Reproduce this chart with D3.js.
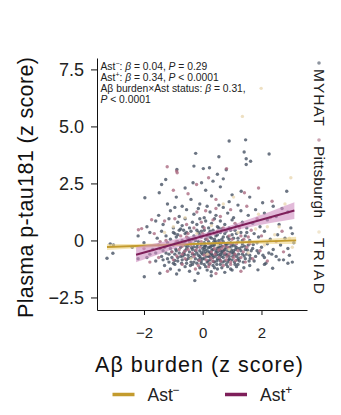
<!DOCTYPE html>
<html>
<head>
<meta charset="utf-8">
<script src="https://cdn.jsdelivr.net/npm/d3@7"></script>
<style>
  body { margin: 0; background: #fff; }
  svg { display: block; font-family: "Liberation Sans", Arial, sans-serif; }
</style>
</head>
<body>
<svg id="chart" width="341" height="415"></svg>
<script>
// ---- data -------------------------------------------------------------
const xTicks = [-2, 0, 2];
const xTickLabels = ["\u22122", "0", "2"];
const yTicks = [-2.5, 0, 2.5, 5.0, 7.5];
const yTickLabels = ["\u22122.5", "0", "2.5", "5.0", "7.5"];

const cohorts = ["MYHAT", "Pittsburgh", "TRIAD"];
const cohortColors = ["#434e60", "#a9687f", "#e8d6ad"];

// participants, [Aβ burden z, plasma p-tau181 z]
const myhatPoints = [
  [-0.24,3.82],[1.41,3.88],[2.26,3.79],[1.48,3.58],[1.63,3.47],[1.48,3.33],[0.9,4.36],[1.46,4.41],
  [-0.3,3.26],[0.02,3.15],[0.23,3.19],[-0.88,3.11],[0.55,3.67],[-1.26,2.67],[-1.4,2.45],[-0.33,2.53],
  [-0.04,2.53],[1.31,2.16],[2.04,1.65],[2.86,2.16],[-1.97,1.87],[-1.48,2.09],[0.8,3.1],[0.5,2.9],
  [0.7,2.7],[0.35,2.6],[-0.6,2.3],[0.1,2.2],[0.6,2.35],[1.0,2.0],[-0.9,1.9],[-0.4,1.8],[0.3,1.95],
  [1.6,1.9],[2.4,1.5],[-1.2,1.6],[0.9,1.7],[1.2,1.55],[-0.1,1.6],[0.55,1.55],[2.7,1.4],[-0.7,1.5],
  [-1.5,1.1],[-1.1,1.3],[-0.8,1.05],[-0.55,1.35],[-0.3,1.15],[-0.15,1.4],[0.05,1.0],[0.25,1.25],
  [0.45,1.1],[0.7,1.45],[0.85,1.2],[1.05,1.0],[1.3,1.3],[1.55,1.1],[1.8,1.35],[2.1,1.2],[2.5,1.05],
  [2.9,1.25],[-0.95,1.45],[0.15,1.5],
  [-1.9,0.6],[-1.6,0.85],[-1.35,0.7],[-1.15,0.95],[-1.0,0.55],[-0.85,0.8],[-0.7,0.65],[-0.6,0.95],
  [-0.45,0.55],[-0.35,0.8],[-0.2,0.7],[-0.1,0.95],[0.0,0.6],[0.1,0.85],[0.2,0.55],[0.3,0.75],
  [0.4,0.95],[0.5,0.6],[0.6,0.85],[0.75,0.7],[0.9,0.55],[1.0,0.9],[1.15,0.65],[1.35,0.8],[1.5,0.55],
  [1.7,0.75],[1.95,0.6],[2.2,0.9],[2.6,0.7],[3.0,0.55],[-0.75,0.5],[0.65,0.5],
  [-2.2,0.2],[-1.8,0.35],[-1.55,0.1],[-1.4,0.4],[-1.25,0.2],[-1.1,0.05],[-1.0,0.35],[-0.9,0.15],
  [-0.8,0.45],[-0.7,0.0],[-0.6,0.3],[-0.5,0.1],[-0.4,0.4],[-0.3,0.2],[-0.25,0.0],[-0.15,0.35],
  [-0.05,0.15],[0.05,0.45],[0.1,0.05],[0.2,0.3],[0.3,0.1],[0.35,0.45],[0.45,0.2],[0.55,0.0],
  [0.6,0.35],[0.7,0.15],[0.8,0.4],[0.9,0.05],[1.0,0.25],[1.1,0.45],[1.2,0.1],[1.3,0.35],[1.45,0.2],
  [1.6,0.0],[1.75,0.3],[1.9,0.15],[2.1,0.4],[2.3,0.05],[2.55,0.25],[2.8,0.1],[3.05,0.3],[-0.95,0.3],
  [0.25,0.4],[0.65,0.05],
  [-3.26,-0.78],[-3.06,-0.56],[-3.15,-0.15],[-3.04,-0.2],[-2.4,-0.3],[-2.0,-0.1],[-1.7,-0.4],
  [-1.5,-0.2],[-1.35,-0.45],[-1.2,-0.1],[-1.1,-0.35],[-1.0,-0.2],[-0.9,-0.45],[-0.85,-0.05],
  [-0.75,-0.3],[-0.65,-0.15],[-0.6,-0.45],[-0.5,-0.25],[-0.45,-0.05],[-0.35,-0.4],[-0.3,-0.15],
  [-0.2,-0.3],[-0.15,-0.05],[-0.1,-0.45],[-0.05,-0.2],[0.0,-0.35],[0.05,-0.1],[0.1,-0.25],
  [0.15,-0.45],[0.2,-0.05],[0.25,-0.3],[0.3,-0.15],[0.35,-0.4],[0.4,-0.2],[0.45,-0.05],[0.5,-0.35],
  [0.55,-0.15],[0.6,-0.45],[0.65,-0.25],[0.7,-0.05],[0.75,-0.4],[0.8,-0.2],[0.9,-0.3],[0.95,-0.1],
  [1.05,-0.45],[1.1,-0.25],[1.2,-0.05],[1.25,-0.35],[1.35,-0.15],[1.45,-0.4],[1.55,-0.2],[1.7,-0.35],
  [1.85,-0.1],[2.0,-0.3],[2.2,-0.15],[2.4,-0.4],[2.65,-0.2],[2.9,-0.35],[3.1,-0.1],[-0.55,-0.35],
  [0.45,-0.45],[0.85,-0.45],
  [-2.2,-0.8],[-1.8,-0.6],[-1.6,-0.9],[-1.4,-0.7],[-1.25,-0.55],[-1.15,-0.95],[-1.05,-0.75],
  [-0.95,-0.6],[-0.85,-0.9],[-0.75,-0.7],[-0.65,-0.55],[-0.55,-0.85],[-0.5,-0.65],[-0.4,-0.95],
  [-0.35,-0.6],[-0.25,-0.8],[-0.2,-0.55],[-0.1,-0.7],[-0.05,-0.9],[0.0,-0.6],[0.05,-0.8],[0.1,-0.55],
  [0.15,-0.95],[0.2,-0.7],[0.25,-0.85],[0.3,-0.6],[0.35,-0.75],[0.4,-0.95],[0.45,-0.55],[0.5,-0.8],
  [0.55,-0.65],[0.6,-0.9],[0.65,-0.55],[0.7,-0.75],[0.8,-0.6],[0.85,-0.95],[0.9,-0.7],[1.0,-0.85],
  [1.05,-0.55],[1.15,-0.7],[1.25,-0.9],[1.35,-0.6],[1.45,-0.8],[1.6,-0.65],[1.75,-0.9],[1.9,-0.55],
  [2.1,-0.75],[2.35,-0.6],[2.6,-0.85],[2.95,-0.65],[3.05,-0.95],[-0.15,-0.85],[0.75,-0.9],[0.25,-0.55],
  [-1.99,-1.59],[-1.46,-1.44],[-1.3,-1.1],[-1.1,-1.25],[-0.95,-1.05],[-0.89,-1.47],[-0.8,-1.3],
  [-0.6,-1.15],[-0.45,-1.35],[-0.35,-1.05],[-0.16,-1.44],[-0.1,-1.2],[0.05,-1.05],[0.15,-1.3],
  [0.29,-1.37],[0.35,-1.1],[0.5,-1.25],[0.6,-1.05],[0.75,-1.4],[0.85,-1.15],[1.0,-1.3],[1.2,-1.05],
  [1.4,-1.2],[1.6,-1.1],[1.88,-1.29],[2.38,-1.22],[2.1,-1.05],[2.9,-1.0],[-0.27,-1.76],[0.29,-1.55],
  [-0.95,-0.15],[-0.8,-0.55],[-0.7,-0.85],[-0.6,-0.05],[-0.45,-0.5],[-0.4,-0.75],[-0.3,-0.95],
  [-0.25,-0.45],[-0.15,-0.65],[-0.05,-0.55],[0.0,-0.8],[0.08,-0.4],[0.12,-0.7],[0.18,-0.9],
  [0.22,-0.5],[0.28,-0.25],[0.33,-0.65],[0.38,-0.05],[0.42,-0.7],[0.48,-0.9],[0.52,-0.5],[0.58,-0.3],
  [0.63,-0.7],[0.68,-0.95],[0.72,-0.45],[0.78,-0.15],[0.83,-0.65],[0.88,-0.85],[0.93,-0.5],
  [0.98,-0.25],[1.02,-0.7],[1.08,-0.95],[1.12,-0.4],[1.18,-0.85],[1.22,-0.6],[1.3,-0.45],[1.38,-0.95],
  [1.42,-0.25],[1.5,-0.6],[1.58,-0.9],[1.65,-0.45],[1.8,-0.7],[-1.15,-0.6],[-1.0,-1.0],[-0.85,-0.75],
  [-0.55,-1.0],[-0.2,-1.0],[0.1,-1.15],[0.4,-1.2],[0.65,-1.2],[0.95,-1.25],[1.15,-1.15],[-0.45,0.05],
  [-0.1,0.25],[0.15,0.2],[0.4,0.05],[0.75,0.3],[1.05,0.1],[1.35,0.0],[-0.65,0.45],[-0.2,0.45],
  [0.55,0.55],[0.95,0.45],[-1.3,-0.3],[-1.6,-0.55],[-1.9,-0.75],[2.25,-0.55],[2.5,-0.7],[2.75,-0.85],
  [2.15,-1.0],
  [-0.92,-0.38],[-0.78,-0.12],[-0.68,-0.68],[-0.58,-0.22],[-0.48,-0.78],[-0.38,-0.32],[-0.28,-0.62],
  [-0.18,-0.18],[-0.08,-0.78],[0.02,-0.48],[0.07,-0.22],[0.13,-0.58],[0.19,-0.32],[0.24,-0.72],
  [0.31,-0.42],[0.36,-0.92],[0.41,-0.12],[0.47,-0.62],[0.53,-0.28],[0.57,-0.82],[0.62,-0.12],
  [0.67,-0.48],[0.73,-0.62],[0.79,-0.32],[0.86,-0.12],[0.91,-0.82],[0.97,-0.42],[1.03,-0.18],
  [1.09,-0.62],[1.16,-0.32],[1.23,-0.78],[1.33,-0.28],[1.41,-0.68],[1.52,-0.42],[1.62,-0.78],
  [1.72,-0.18],[-1.2,-0.8],[-1.05,-0.5],[-0.95,-0.88],[-0.72,-1.0],[-0.42,-1.1],[-0.05,-1.0],
  [0.22,-1.05],[0.48,-1.05],[0.8,-1.05],[1.1,-1.05],[-0.85,0.25],[-0.55,0.35],[-0.35,0.05],
  [-0.05,0.4],[0.25,0.15],[0.5,0.25],[0.85,0.15],[1.15,0.3],[1.5,0.35],[-1.45,-0.35],[-1.35,-0.85],
  [1.85,-0.45],[2.05,-0.65],[-0.62,-0.62],[0.05,-0.3],[0.6,-0.6],[1.0,-0.55],[-0.3,-0.28],[0.35,-0.22]
];

const pittsburghPoints = [
  [-1.21,3.23],[-0.89,3.04],[-0.87,2.97],[0.81,3.15],[-0.21,2.45],[1.42,2.09],[2.36,1.72],[-1.74,0.91],
  [-2.19,0.47],[-2.08,0.52],[-0.5,2.05],[0.2,2.75],[-1.0,2.2],[1.9,2.3],[0.45,1.8],[-0.2,1.25],
  [1.5,1.5],[2.3,1.0],[-1.3,0.85],[-0.55,0.7],[0.35,0.9],[1.1,0.75],[1.85,0.95],[-1.65,0.3],
  [-0.75,0.2],[0.0,0.3],[0.5,0.4],[0.9,0.2],[1.4,0.05],[2.0,0.2],[2.7,0.4],[-2.0,-0.35],[-1.45,-0.05],
  [-1.05,-0.5],[-0.7,-0.25],[-0.4,-0.1],[-0.1,-0.3],[0.2,-0.15],[0.4,-0.35],[0.6,-0.1],[0.85,-0.3],
  [1.15,-0.15],[1.5,-0.3],[1.95,-0.45],[2.5,-0.05],[-1.5,-0.75],[-1.0,-0.85],[-0.7,-0.6],[-0.3,-0.7],
  [0.05,-0.65],[0.35,-0.9],[0.55,-0.75],[0.8,-0.85],[1.1,-0.6],[1.3,-0.75],[1.7,-0.8],[2.2,-0.9],
  [-1.2,-1.35],[-0.7,-1.05],[-0.25,-1.25],[0.2,-1.15],[0.45,-1.45],[0.95,-1.05],[1.3,-1.35],
  [-0.5,-0.4],[0.3,-0.5],[0.75,-0.55],[-0.3,0.55],[1.25,0.55],[0.1,1.3],[0.6,1.05],[-0.9,-0.05],
  [1.65,0.45],[-1.8,-0.95],[2.75,-0.5],[-0.05,0.8],[0.95,1.35],
  [-0.8,-0.4],[-0.35,-0.55],[-0.05,-0.05],[0.12,-0.85],[0.42,-0.6],[0.65,-0.35],[0.9,-0.6],
  [1.2,-0.45],[1.45,-0.95],[-0.6,-0.8],[-0.15,-1.1],[0.25,-1.0],[0.7,-1.1],[1.05,-0.75],[-1.25,0.0],
  [-0.55,0.15],[0.15,0.05],[0.7,0.55],[1.3,0.2],[-0.95,0.95],[0.45,1.4],[-0.4,-0.2],[0.95,-0.15],
  [1.6,-0.15],
  [-0.62,-0.48],[-0.22,-0.42],[0.18,-0.62],[0.55,-0.42],[0.82,-0.72],[1.12,-0.88],[1.38,-0.5],
  [-0.88,-0.68],[-0.12,-0.88],[0.28,-0.78],[0.62,-0.9],[0.95,-0.95],[-0.5,0.3],[0.05,0.55],[0.4,0.3],
  [1.0,0.05],[1.55,0.15],[-1.1,-0.2],[-0.25,0.1],[0.72,-0.25]
];

const triadPoints = [
  [1.99,6.67],[1.35,5.44],[3.0,2.75],[2.8,1.6],[-0.6,1.0],[0.7,1.6],[2.6,0.6],[3.05,-0.3],[1.8,0.5],
  [-0.2,0.3],[0.5,-0.2],[1.2,0.35],[2.1,-0.2],[-1.0,0.6],[0.3,0.65],[1.55,-0.55],[2.45,0.25],
  [-0.4,-0.8],[0.9,-0.4],[1.9,1.15],[-1.3,0.35],[2.95,0.1],[1.05,1.9],[0.15,-0.6],[2.2,0.6]
];

// fitted regressions: line ends and 95% CI band, [x, lower, upper]
const groups = ["Ast\u2212", "Ast+"];
const groupColors = ["#c39b2e", "#7e1f5a"];
const bandColors = ["#efd58a", "#cf8cbf"];
const astNegLine = [[-3.26, -0.287], [3.18, 0.003]];
const astNegBand = [[-3.26, -0.42, -0.16], [-1.5, -0.29, -0.13], [0, -0.19, -0.09], [1.5, -0.14, 0.0], [3.18, -0.16, 0.16]];
const astPosLine = [[-2.27, -0.63], [3.12, 1.31]];
const astPosBand = [[-2.27, -0.96, -0.30], [-1.0, -0.37, 0.03], [0.3, 0.20, 0.40], [1.5, 0.56, 0.90], [3.12, 0.94, 1.68]];

// statistics printed in the plot corner
const statLines = [
  [["Ast", ""], ["\u2212", "sup"], [": ", ""], ["\u03b2", "i"], [" = 0.04, ", ""], ["P", "i"], [" = 0.29", ""]],
  [["Ast", ""], ["+", "sup"], [": ", ""], ["\u03b2", "i"], [" = 0.34, ", ""], ["P", "i"], [" < 0.0001", ""]],
  [["A\u03b2 burden\u00d7Ast status: ", ""], ["\u03b2", "i"], [" = 0.31,", ""]],
  [["P", "i"], [" < 0.0001", ""]]
];

// ---- drawing ----------------------------------------------------------
const svg = d3.select("#chart");
svg.append("rect").attr("width", 341).attr("height", 415).attr("fill", "#fff");

const x = d3.scaleLinear().domain([-3.6, 3.55]).range([97, 307]);
const y = d3.scaleLinear().domain([-3.05, 8.0]).range([310, 58]);

// points
const pointSets = [myhatPoints, pittsburghPoints, triadPoints];
const gPts = svg.append("g");
pointSets.forEach((pts, k) => {
  gPts.append("g").selectAll("circle").data(pts).join("circle")
    .attr("cx", d => x(d[0])).attr("cy", d => y(d[1])).attr("r", 1.7)
    .attr("fill", cohortColors[k]).attr("fill-opacity", k === 2 ? 0.75 : 0.78);
});

// regression bands and lines
const area = d3.area().x(d => x(d[0])).y0(d => y(d[1])).y1(d => y(d[2])).curve(d3.curveMonotoneX);
const line = d3.line().x(d => x(d[0])).y(d => y(d[1]));
[[astNegBand, astNegLine], [astPosBand, astPosLine]].forEach(([band, ln], k) => {
  svg.append("path").attr("d", area(band)).attr("fill", bandColors[k]).attr("fill-opacity", 0.6);
  svg.append("path").attr("d", line(ln)).attr("fill", "none")
    .attr("stroke", groupColors[k]).attr("stroke-width", 2);
});

// axes
const yAxis = svg.append("g").attr("transform", "translate(97,0)")
  .call(d3.axisLeft(y).tickValues(yTicks).tickSize(6).tickSizeOuter(0).tickPadding(7)
    .tickFormat((d, i) => yTickLabels[i]));
yAxis.selectAll("text").attr("font-size", 18).attr("font-family", "Liberation Sans, Arial, sans-serif").attr("fill", "#222");

const xAxis = svg.append("g").attr("transform", "translate(0,310)")
  .call(d3.axisBottom(x).tickValues(xTicks).tickSize(5).tickSizeOuter(0).tickPadding(12)
    .tickFormat((d, i) => xTickLabels[i]));
xAxis.selectAll("text").attr("font-size", 15).attr("font-family", "Liberation Sans, Arial, sans-serif").attr("fill", "#222");
svg.selectAll(".domain, .tick line").attr("stroke", "#111").attr("stroke-width", 1);

// axis titles
svg.append("text").attr("transform", "translate(33,318) rotate(-90)")
  .attr("font-size", 21.5).attr("fill", "#111")
  .attr("textLength", 261).attr("lengthAdjust", "spacing")
  .text("Plasma p-tau181 (z score)");
svg.append("text").attr("x", 95).attr("y", 372)
  .attr("font-size", 21.5).attr("fill", "#111")
  .attr("textLength", 208).attr("lengthAdjust", "spacing")
  .text("A\u03b2 burden (z score)");

// rich text helper: superscripts and italics
function richText(sel, segs, fs) {
  segs.forEach(([t, style], i) => {
    const ts = sel.append("tspan").text(t);
    if (style === "i") ts.attr("font-style", "italic");
    if (style === "sup") ts.attr("font-size", fs * 0.68).attr("dy", -fs * 0.38);
    const prev = segs[i - 1];
    if (prev && prev[1] === "sup") ts.attr("dy", fs * 0.38);
  });
}

// statistics block
const statG = svg.append("g");
statLines.forEach((segs, i) => {
  const t = statG.append("text").attr("x", 100.5).attr("y", 69.5 + i * 11)
    .attr("font-size", 10.3).attr("fill", "#222");
  richText(t, segs, 10.3);
});

// cohort legend, reading downward along the right edge
const cohortLegendY = [63, 140, 232];
const cohortLabelLen = [57, 72, 56];
cohorts.forEach((c, k) => {
  svg.append("circle").attr("cx", 319).attr("cy", cohortLegendY[k]).attr("r", 1.8)
    .attr("fill", cohortColors[k]).attr("fill-opacity", 0.6);
  svg.append("text").attr("transform", `translate(313.5,${cohortLegendY[k] + 6}) rotate(90)`)
    .attr("font-size", 15.5).attr("fill", "#222")
    .attr("textLength", cohortLabelLen[k]).attr("lengthAdjust", "spacing")
    .text(c);
});

// group legend below the axis
const groupLegendX = [112.5, 225];
groups.forEach((g, k) => {
  const x0 = groupLegendX[k];
  svg.append("line").attr("x1", x0).attr("x2", x0 + 22).attr("y1", 394.5).attr("y2", 394.5)
    .attr("stroke", groupColors[k]).attr("stroke-width", 3.5);
  const t = svg.append("text").attr("x", x0 + 35).attr("y", 400.5).attr("font-size", 17.5).attr("fill", "#222");
  richText(t, [["Ast", ""], [g.slice(3), "sup"]], 17.5);
});
</script>
</body>
</html>
